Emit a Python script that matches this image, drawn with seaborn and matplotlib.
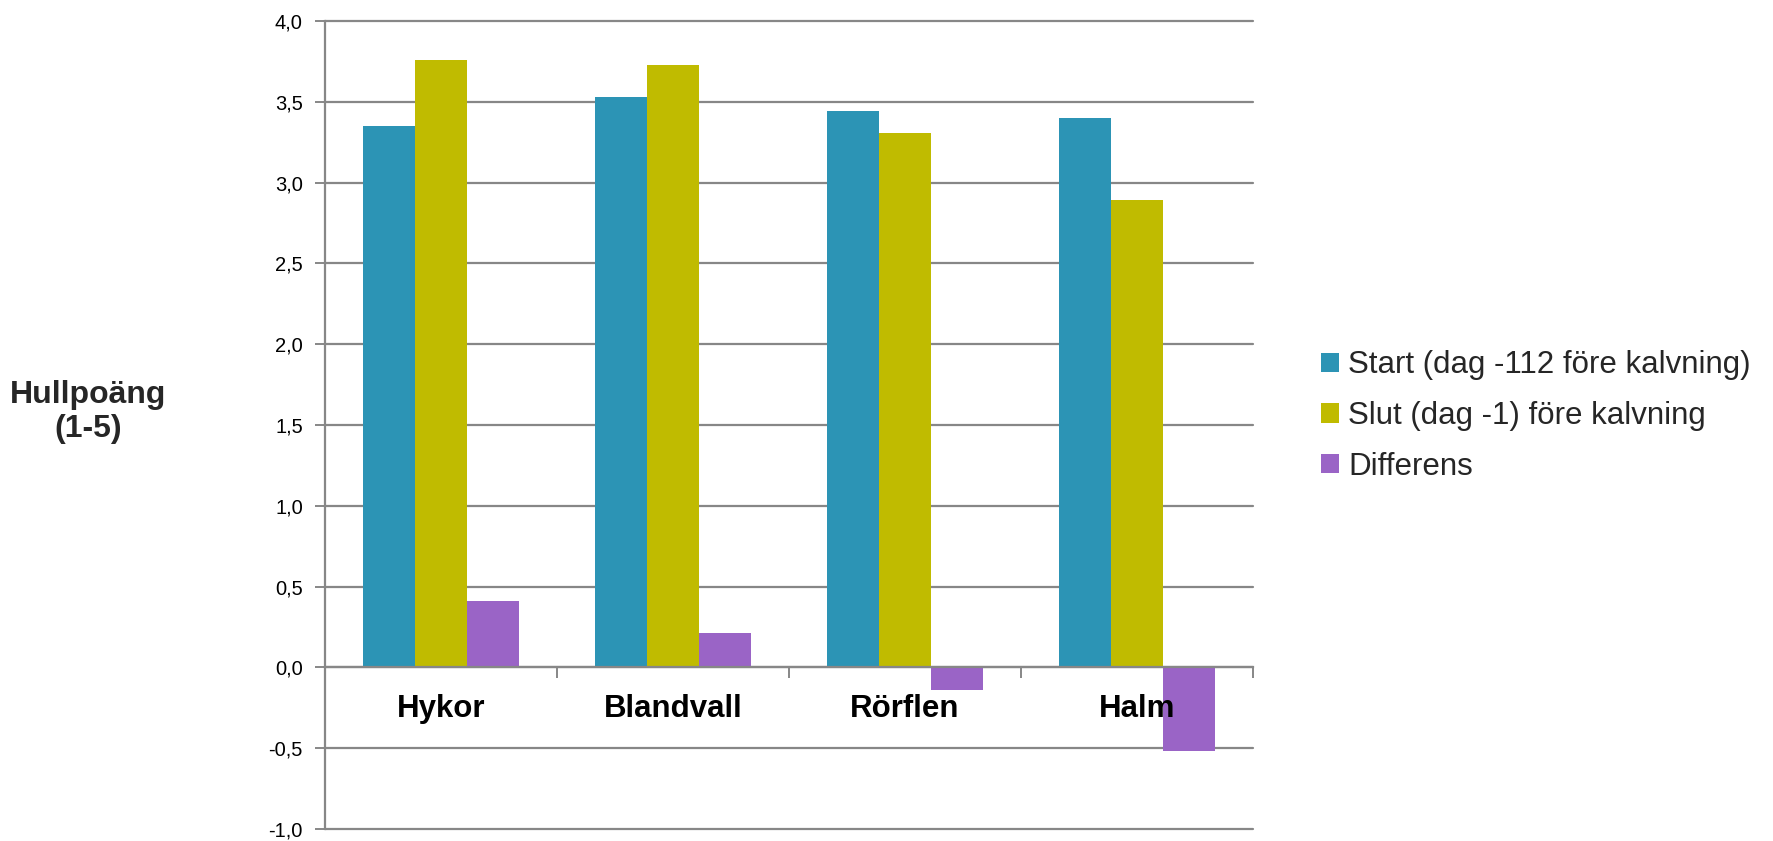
import matplotlib
matplotlib.use("Agg")
import matplotlib.pyplot as plt
import seaborn as sns
import pandas as pd
from matplotlib.patches import Patch
from matplotlib.ticker import FixedLocator, FuncFormatter

# Feeding groups and body condition scores
categories = ["Hykor", "Blandvall", "Rörflen", "Halm"]
start_values = [3.35, 3.53, 3.44, 3.40]
slut_values = [3.76, 3.73, 3.31, 2.89]
diff_values = [0.41, 0.21, -0.14, -0.52]
series_names = ["Start (dag -112 före kalvning)", "Slut (dag -1) före kalvning", "Differens"]
series_colors = ["#2C94B5", "#C0BB00", "#9A64C6"]
y_ticks = [-1.0, -0.5, 0.0, 0.5, 1.0, 1.5, 2.0, 2.5, 3.0, 3.5, 4.0]

rows = []
for name, vals in zip(series_names, [start_values, slut_values, diff_values]):
    for cat, v in zip(categories, vals):
        rows.append({"Grupp": cat, "Serie": name, "Värde": v})
df = pd.DataFrame(rows)

sns.set_theme(style="white")
plt.rcParams["font.family"] = ["Liberation Sans", "DejaVu Sans"]

fig = plt.figure(figsize=(17.73, 8.41), dpi=100)
ax = fig.add_axes([325 / 1773, 1 - 829 / 841, (1253 - 325) / 1773, (829 - 21) / 841])

sns.barplot(data=df, x="Grupp", y="Värde", hue="Serie", order=categories,
            hue_order=series_names, palette=series_colors, width=0.67,
            edgecolor="none", linewidth=0, saturation=1, legend=False, ax=ax,
            zorder=2, errorbar=None)

ax.set_ylim(-1.0, 4.0)
ax.set_xlim(-0.5, len(categories) - 0.5)
ax.set_xlabel("")
ax.set_ylabel("")

grid_color = "#878787"
for t in y_ticks:
    ax.axhline(t, color=grid_color, lw=1.6, zorder=1, clip_on=False)

ax.yaxis.set_major_locator(FixedLocator(y_ticks))
ax.yaxis.set_major_formatter(FuncFormatter(lambda v, p: f"{v:.1f}".replace(".", ",")))
ax.tick_params(axis="y", which="major", left=True, length=7, width=1.4, color=grid_color,
               pad=9, labelsize=14.5, labelcolor="black")

# Category axis crosses the value axis at zero; its labels sit on top of the bars
for s in ["top", "right"]:
    ax.spines[s].set_visible(False)
ax.spines["left"].set_color(grid_color)
ax.spines["left"].set_linewidth(1.6)
ax.spines["bottom"].set_position(("data", 0))
ax.spines["bottom"].set_color(grid_color)
ax.spines["bottom"].set_linewidth(1.6)
ax.spines["bottom"].set_zorder(4)
ax.xaxis.set_zorder(5)
ax.set_xticks(range(len(categories)))
ax.set_xticklabels(categories, fontweight="bold", fontsize=22.5)
ax.tick_params(axis="x", which="major", length=0, pad=19, labelcolor="black")
ax.xaxis.set_minor_locator(FixedLocator([i - 0.5 for i in range(len(categories) + 1)]))
ax.tick_params(axis="x", which="minor", bottom=True, direction="out", length=8,
               width=1.4, color=grid_color)

fig.text(88 / 1773, 1 - 412 / 841, "Hullpoäng\n(1-5)", ha="center", va="center",
         fontsize=23, fontweight="bold", linespacing=1.15)

handles = [Patch(facecolor=c, edgecolor="none") for c in series_colors]
fig.legend(handles, series_names, loc="center left",
           bbox_to_anchor=(1321 / 1773, 1 - 416 / 841), frameon=False, fontsize=22.5,
           handlelength=0.58, handleheight=0.58, handletextpad=0.3, labelspacing=0.66,
           borderaxespad=0, borderpad=0)

fig.savefig("out.png", dpi=100, facecolor="white")
